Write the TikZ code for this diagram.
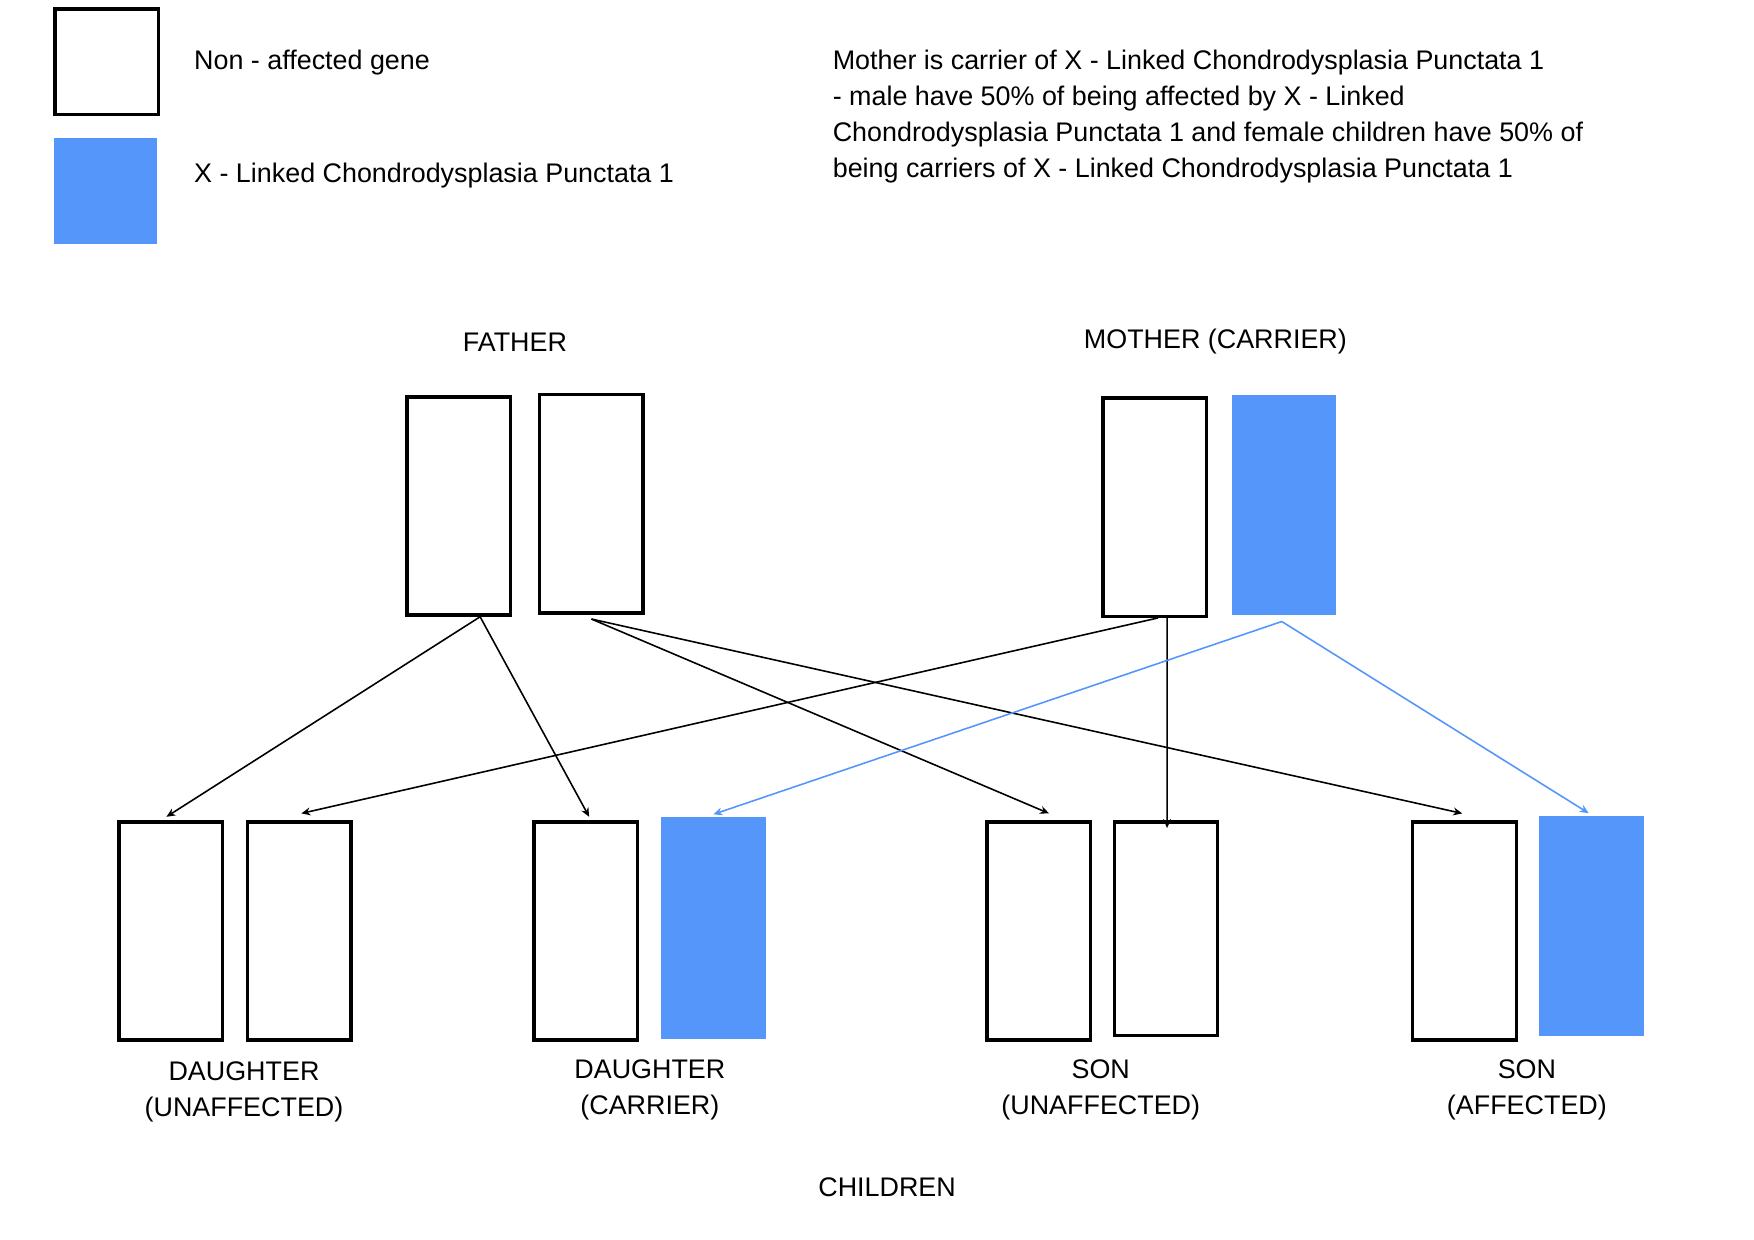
\documentclass[tikz,border=0pt]{standalone}
\usepackage{fontspec}
\setmainfont{Liberation Sans}
\usetikzlibrary{arrows.meta,positioning}
\definecolor{genblue}{RGB}{84,150,250}
\tikzset{
  gene/.style={rectangle, draw, line width=0.85pt, minimum width=0.92cm, minimum height=1.94cm, inner sep=0pt},
  affected/.style={rectangle, fill=genblue, minimum width=0.93cm, minimum height=1.95cm, inner sep=0pt},
  txt/.style={font=\fontsize{6.8}{9.1}\selectfont, inner sep=0pt},
  link/.style={-{Stealth[length=0.08cm,width=0.07cm]}, line width=0.4pt},
  bluelink/.style={link, draw=genblue}
}
\begin{document}
\begin{tikzpicture}[x=0.01cm,y=-0.01cm]
      \useasboundingbox (0,0) rectangle (1560,1102);
      % legend
      \node [gene, minimum height=0.94cm] (keygene) at (95,55) {};
      \node [affected, minimum width=0.92cm, minimum height=0.94cm] (keyaff) at (94,170) {};
      \node [txt, anchor=west] (keygenetxt) at (172,56) {Non - affected gene};
      \node [txt, anchor=west] (keyafftxt) at (172,156) {X - Linked Chondrodysplasia Punctata 1};
      \node [txt, anchor=north west, align=left] (note) at (740,44) {Mother is carrier of X - Linked Chondrodysplasia Punctata 1\\- male have 50\% of being affected by X - Linked\\Chondrodysplasia Punctata 1 and female children have 50\% of\\being carriers of X - Linked Chondrodysplasia Punctata 1};
      % parents
      \node [txt] (fatherlbl) at (458,304) {FATHER};
      \node [txt] (motherlbl) at (1081,304) {MOTHER (CARRIER)};
      \node [gene] (father1) at (408,450) {};
      \node [gene] (father2) at (526,448) {};
      \node [gene] (mother1) at (1027,451) {};
      \node [affected] (mother2) at (1142,449) {};
      % children
      \node [gene] (dau1a) at (152,828) {};
      \node [gene] (dau1b) at (266,828) {};
      \node [gene] (dau2a) at (521,828) {};
      \node [affected, minimum height=1.97cm] (dau2b) at (634.5,825.5) {};
      \node [gene] (son1a) at (924,828) {};
      \node [gene, minimum height=1.9cm] (son1b) at (1037,826) {};
      \node [gene] (son2a) at (1302.5,828) {};
      \node [affected] (son2b) at (1415.5,823.5) {};
      \node [txt, align=center] (dau1lbl) at (217,971) {DAUGHTER\\(UNAFFECTED)};
      \node [txt, align=center] (dau2lbl) at (578,969) {DAUGHTER\\(CARRIER)};
      \node [txt, align=center] (son1lbl) at (979,969) {SON\\(UNAFFECTED)};
      \node [txt, align=center] (son2lbl) at (1358,969) {SON\\(AFFECTED)};
      \node [txt] (childrenlbl) at (789,1056) {CHILDREN};
      % inheritance
      \draw [link] ([xshift=0.19cm]father1.south) -- ([xshift=-0.04cm,yshift=0.03cm]dau1a.north);
      \draw [link] ([xshift=0.19cm]father1.south) -- ([xshift=0.03cm,yshift=0.03cm]dau2a.north);
      \draw [link] ([yshift=-0.04cm]father2.south) -- ([xshift=0.09cm,yshift=0.06cm]son1a.north);
      \draw [link] ([yshift=-0.04cm]father2.south) -- ([xshift=-0.02cm,yshift=0.06cm]son2a.north);
      \draw [link] ([xshift=0.03cm]mother1.south) -- ([xshift=0.02cm,yshift=0.06cm]dau1b.north);
      \draw [link] ([xshift=0.11cm]mother1.south) -- ([xshift=0.01cm,yshift=-0.07cm]son1b.north);
      \draw [bluelink] ([xshift=-0.02cm,yshift=-0.055cm]mother2.south) -- ([yshift=0.02cm]dau2b.north);
      \draw [bluelink] ([xshift=-0.02cm,yshift=-0.055cm]mother2.south) -- ([xshift=-0.025cm,yshift=0.02cm]son2b.north);
\end{tikzpicture}
\end{document}
